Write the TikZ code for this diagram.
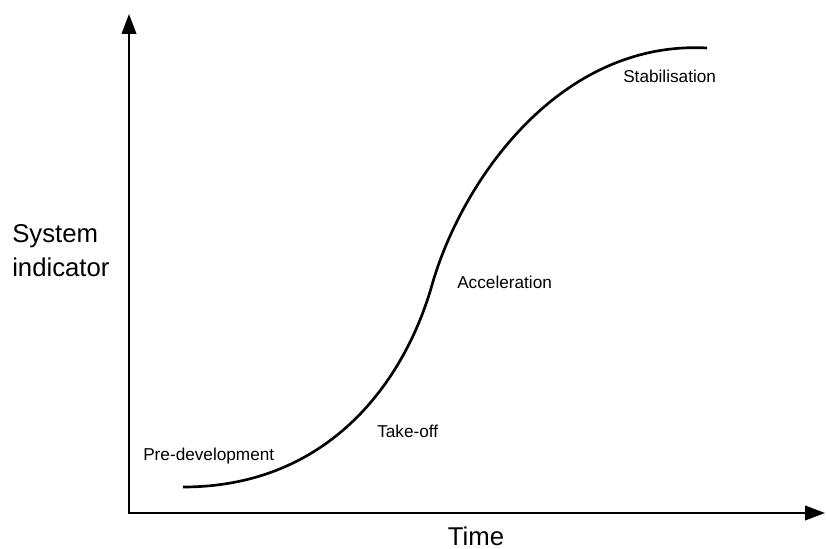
\documentclass[tikz,border=0pt]{standalone}
\usepackage{fontspec}
\setmainfont{Liberation Sans}
\usepackage{tikz}
\usetikzlibrary{arrows.meta}

\begin{document}
\begin{tikzpicture}[x=0.75pt, y=-0.75pt,
    phase/.style={anchor=base west, inner sep=0pt, font=\fontsize{12.9}{15}\selectfont},
    axislabel/.style={inner sep=0pt, font=\fontsize{19.3}{25.5}\selectfont}]
    \useasboundingbox (0,0) rectangle (826,549);
    % Axes
    \coordinate (origin) at (129,513);
    \coordinate (yend) at (129,14);
    \coordinate (xend) at (825,513);
    \draw[line width=1.3pt, {Triangle[length=15pt, width=11pt]}-{Triangle[length=15pt, width=11pt]}] (yend) -- (origin) -- (xend);
    % Curve
    \coordinate (start) at (183,487);
    \coordinate (bend) at (432,285);
    \coordinate (top) at (707,48);
    \draw[line width=2pt] (start) .. controls (330,487) and (405,380) .. (bend)
        .. controls (462,180) and (560,40) .. (top);
    % Labels
    \node[phase] (predev) at (143,460) {Pre-development};
    \node[phase] (takeoff) at (377,437) {Take-off};
    \node[phase] (accel) at (457,289) {Acceleration};
    \node[phase] (stab) at (623,83) {Stabilisation};
    \node[axislabel, anchor=base] (time) at (476,545) {Time};
    \node[axislabel, anchor=base west, align=left] (indicator) at (12,277) {System\\indicator};
\end{tikzpicture}
\end{document}
